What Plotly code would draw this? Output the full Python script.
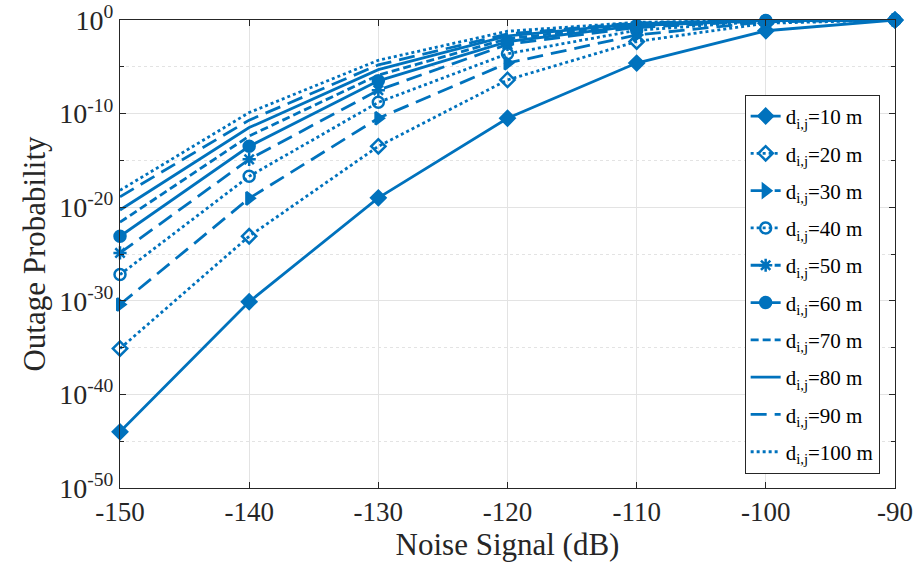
import plotly.graph_objects as go

noise_db = [-150, -140, -130, -120, -110, -100, -90]

p_10m = [1.0e-44, 7.9e-31, 1.0e-19, 3.2e-11, 2.5e-5, 7.1e-2, 1.0]
p_20m = [7.9e-36, 7.9e-24, 3.2e-14, 4.0e-7, 5.0e-3, 0.45, 1.0]
p_30m = [4.0e-31, 8.9e-20, 3.2e-11, 2.5e-5, 2.5e-2, 0.63, 1.0]
p_40m = [6.3e-28, 2.0e-17, 1.6e-9, 2.5e-4, 7.9e-2, 0.76, 1.0]
p_50m = [1.3e-25, 1.3e-15, 3.2e-8, 2.5e-3, 0.16, 0.83, 1.0]
p_60m = [7.9e-24, 3.2e-14, 3.2e-7, 5.0e-3, 0.25, 0.87, 1.0]
p_70m = [2.5e-22, 4.0e-13, 1.3e-6, 1.0e-2, 0.32, 0.89, 1.0]
p_80m = [5.0e-21, 3.2e-12, 5.0e-6, 2.0e-2, 0.40, 0.91, 1.0]
p_90m = [1.3e-19, 2.0e-11, 1.6e-5, 3.2e-2, 0.50, 0.93, 1.0]
p_100m = [6.3e-19, 1.3e-10, 5.0e-5, 6.3e-2, 0.56, 0.95, 1.0]

series_names = ["10", "20", "30", "40", "50", "60", "70", "80", "90", "100"]
series_vals = [p_10m, p_20m, p_30m, p_40m, p_50m, p_60m, p_70m, p_80m, p_90m, p_100m]

x_tick_vals = [-150, -140, -130, -120, -110, -100, -90]
x_tick_text = ["-150", "-140", "-130", "-120", "-110", "-100", "-90"]
y_tick_vals = [1e-50, 1e-40, 1e-30, 1e-20, 1e-10, 1e0]
y_tick_text = ["10<sup>-50</sup>", "10<sup>-40</sup>", "10<sup>-30</sup>",
               "10<sup>-20</sup>", "10<sup>-10</sup>", "10<sup>0</sup>"]
y_minor_vals = [1e-45, 1e-35, 1e-25, 1e-15, 1e-5]

COLOR = "#0072BD"
DASHDOT = "16px,8px"
DASHED = "8px,4px"
styles = [
    ("solid", "diamond"),
    ("dot", "diamond-open"),
    (DASHDOT, "triangle-right"),
    ("dot", "circle-open"),
    (DASHDOT, "asterisk-open"),
    ("solid", "circle"),
    (DASHED, None),
    ("solid", None),
    (DASHDOT, None),
    ("dot", None),
]

fig = go.Figure()
for name, vals, (dash, sym) in zip(series_names, series_vals, styles):
    mode = "lines+markers" if sym else "lines"
    fig.add_trace(go.Scatter(
        x=noise_db, y=vals, mode=mode,
        name="d<sub>i,j</sub>=" + name + " m",
        legendgroup="g" + name,
        cliponaxis=False,
        line=dict(color=COLOR, width=2.8, dash=dash),
        marker=dict(symbol=sym or "circle", size=11, color=COLOR,
                    line=dict(color=COLOR, width=2.5)),
    ))

font_family = "Liberation Serif, Times New Roman, serif"
fig.update_layout(
    width=920, height=567,
    margin=dict(l=120, r=25, t=20, b=79),
    paper_bgcolor="white", plot_bgcolor="white",
    font=dict(family=font_family, size=26, color="#262626"),
    showlegend=True,
    legend=dict(x=0.806, y=0.84, xanchor="left", yanchor="top",
                bgcolor="white", bordercolor="#262626", borderwidth=1,
                font=dict(family=font_family, size=21, color="#000000"),
                tracegroupgap=7, itemwidth=30),
)
fig.update_xaxes(
    range=[-150, -90], tickvals=x_tick_vals, ticktext=x_tick_text,
    tickfont=dict(size=27), ticklabeloverflow="allow",
    showgrid=True, gridcolor="#e3e3e3", gridwidth=1,
    ticks="inside", ticklen=6, tickcolor="#262626",
    showline=True, linecolor="#262626", linewidth=1, mirror="ticks",
    zeroline=False, automargin=False,
    title=dict(text="Noise Signal (dB)", font=dict(size=31), standoff=4),
)
fig.update_yaxes(
    type="log", range=[-50, 0], tickvals=y_tick_vals, ticktext=y_tick_text,
    tickfont=dict(size=28), ticklabeloverflow="allow",
    showgrid=True, gridcolor="#e3e3e3", gridwidth=1,
    ticks="inside", ticklen=6, tickcolor="#262626",
    showline=True, linecolor="#262626", linewidth=1, mirror="ticks",
    zeroline=False, automargin=False,
    minor=dict(tickvals=y_minor_vals, showgrid=True, gridcolor="#e3e3e3",
               griddash="dot", ticks="inside", ticklen=4, tickcolor="#262626"),
    title=dict(text="Outage Probability", font=dict(size=31), standoff=4),
)

fig.write_html("out.html", config={"displayModeBar": False},
               post_script="document.body.style.margin='0';")
